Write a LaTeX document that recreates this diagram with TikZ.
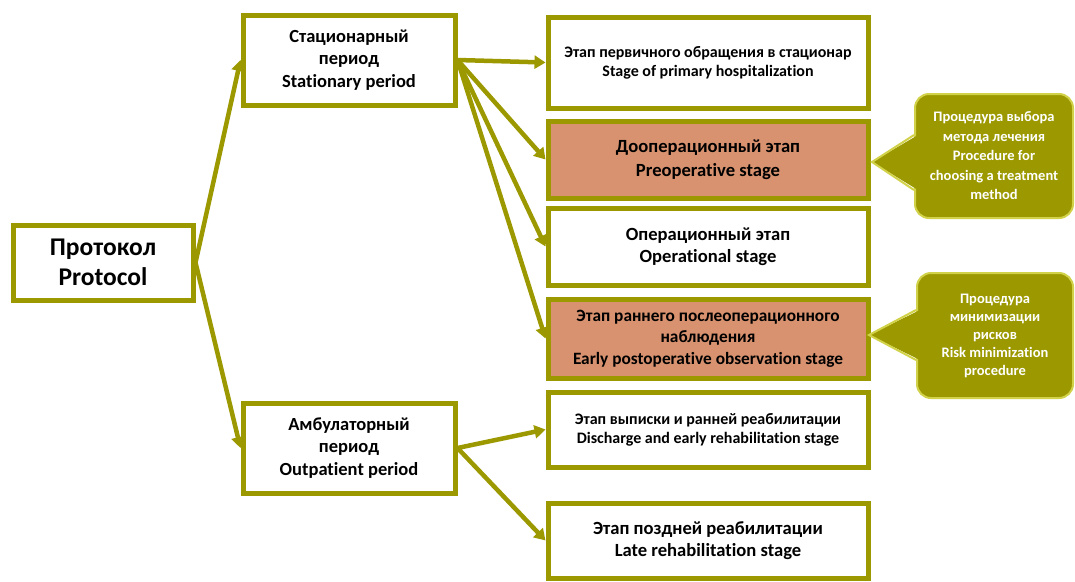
\documentclass[tikz,border=0pt]{standalone}
\usepackage{fontspec}
\setmainfont{Carlito}[Ligatures=NoCommon]
\usetikzlibrary{arrows.meta,positioning}

\begin{document}
\begin{tikzpicture}[x=1pt, y=-1pt,
    fs/.style 2 args={font=\bfseries\fontsize{#1}{#2}\selectfont},
    stagebox/.style={draw=oliveBorder, line width=5pt, fill=white, align=center, inner sep=0pt},
    hotbox/.style={stagebox, fill=salmonFill},
    link/.style={draw=oliveBorder, line width=4.5pt, -{Triangle[length=11pt, width=13pt]}},
    notebox/.style={draw=noteEdge, line width=2pt, fill=oliveBorder, rounded corners=14pt, align=center, text=white, inner sep=0pt}]
    % Palette
    \definecolor{oliveBorder}{HTML}{9C9900}
    \definecolor{salmonFill}{HTML}{D8926F}
    \definecolor{noteEdge}{HTML}{D2D24A}

    \useasboundingbox (0,0) rectangle (1075,581);

    % --- Root ---
    \node[stagebox, fs={25.5}{30}, minimum width=180pt, minimum height=75pt] (prot) at (103,262.5)
        {Протокол\\Protocol};

    % --- Periods ---
    \node[stagebox, fs={18.5}{22.5}, minimum width=212pt, minimum height=90pt] (stat) at (349,60)
        {Стационарный\\период\\Stationary period};
    \node[stagebox, fs={18.5}{22.5}, minimum width=212pt, minimum height=90pt] (outp) at (349,448)
        {Амбулаторный\\период\\Outpatient period};

    % --- Stages ---
    \node[stagebox, fs={16}{19}, minimum width=320pt, minimum height=91pt] (primary) at (708,62.5)
        {Этап первичного обращения в стационар\\Stage of primary hospitalization};
    \node[hotbox, fs={18.6}{24}, minimum width=320pt, minimum height=77pt] (preop) at (708,159.5)
        {Дооперационный этап\\Preoperative stage};
    \node[stagebox, fs={18.6}{22}, minimum width=320pt, minimum height=77pt] (oper) at (708,246.5)
        {Операционный этап\\Operational stage};
    \node[hotbox, fs={17.3}{21.5}, minimum width=320pt, minimum height=79pt] (postop) at (708,338.5)
        {Этап раннего послеоперационного\\наблюдения\\Early postoperative observation stage};
    \node[stagebox, fs={16}{19}, minimum width=320pt, minimum height=75pt] (discharge) at (708,429.5)
        {Этап выписки и ранней реабилитации\\Discharge and early rehabilitation stage};
    \node[stagebox, fs={18.6}{22}, minimum width=320pt, minimum height=75pt] (late) at (708,540.5)
        {Этап поздней реабилитации\\Late rehabilitation stage};

    % --- Arrows ---
    \draw[link] (prot.east) -- (stat.west);
    \draw[link] (prot.east) -- (outp.west);
    \draw[link] (stat.east) -- (primary.west);
    \draw[link] (stat.east) -- (preop.west);
    \draw[link] (stat.east) -- (oper.west);
    \draw[link] (stat.east) -- (postop.west);
    \draw[link] (outp.east) -- (discharge.west);
    \draw[link] (outp.east) -- (late.west);

    % --- Notes ---
    \node[notebox, fs={14.5}{19.5}, minimum width=158pt, minimum height=124pt] (choice) at (994,156)
        {Процедура выбора\\метода лечения\\Procedure for\\choosing a treatment\\method};
    \coordinate (choiceTip) at (872,162);
    \fill[oliveBorder] ([xshift=4pt, yshift=21pt]choice.west) -- (choiceTip) -- ([xshift=4pt, yshift=-34pt]choice.west) -- cycle;
    \draw[noteEdge, line width=2pt, line join=miter] ([yshift=21pt]choice.west) -- (choiceTip) -- ([yshift=-34pt]choice.west);

    \node[notebox, fs={14.5}{18}, minimum width=156pt, minimum height=125pt] (risk) at (995,335.5)
        {Процедура\\минимизации\\рисков\\Risk minimization\\procedure};
    \coordinate (riskTip) at (869,335);
    \fill[oliveBorder] ([xshift=4pt, yshift=25.5pt]risk.west) -- (riskTip) -- ([xshift=4pt, yshift=-24.5pt]risk.west) -- cycle;
    \draw[noteEdge, line width=2pt, line join=miter] ([yshift=25.5pt]risk.west) -- (riskTip) -- ([yshift=-24.5pt]risk.west);

\end{tikzpicture}
\end{document}
